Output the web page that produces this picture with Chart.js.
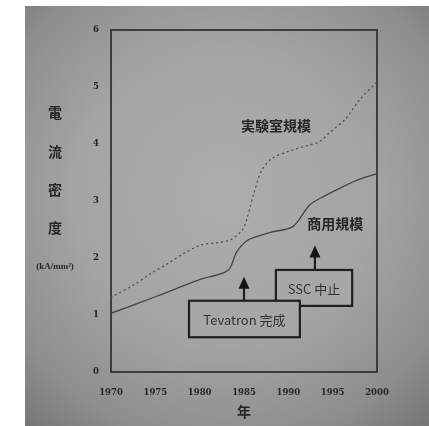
<!DOCTYPE html>
<html>
<head>
<meta charset="utf-8">
<script src="https://cdn.jsdelivr.net/npm/chart.js@4.4.0/dist/chart.umd.min.js"></script>
<style>
  html, body { margin: 0; padding: 0; background: #ffffff; }
  #wrap { width: 429px; height: 426px; position: relative; }
</style>
</head>
<body>
<div id="wrap"><canvas id="c" width="429" height="426"></canvas></div>
<script>
// Critical current density of superconducting wire, 1970–2000 (kA/mm²)
const xTicks = [1970, 1975, 1980, 1985, 1990, 1995, 2000];
const yTicks = [0, 1, 2, 3, 4, 5, 6];

// 実験室規模 (laboratory scale) — dotted
const labYears  = [1970, 1972.6, 1974.5, 1976.5, 1978.3, 1980.2, 1982, 1983.5, 1984.8, 1985.3, 1986.1, 1987, 1988.2, 1990, 1992.3, 1993.5, 1994.6, 1996.5, 1998, 2000];
const labValues = [1.31, 1.53, 1.73, 1.91, 2.09, 2.23, 2.27, 2.32, 2.49, 2.67, 3.13, 3.54, 3.75, 3.87, 3.98, 4.04, 4.19, 4.45, 4.77, 5.09];

// 商用規模 (commercial scale) — solid
const comYears  = [1970, 1975, 1980, 1982.5, 1983.4, 1984.2, 1985.5, 1988, 1990.5, 1992.4, 1994, 1996, 1998, 2000];
const comValues = [1.03, 1.32, 1.62, 1.73, 1.82, 2.11, 2.32, 2.45, 2.55, 2.93, 3.08, 3.24, 3.38, 3.48];

const seriesLabels = ['実験室規模', '商用規模'];

// Event call-outs: year the arrow points at, arrow tip value, box extent (data units)
const events = [
  { text: 'SSC 中止',      year: 1993, tip: 2.22, box: [1988.6, 1997.2, 1.79, 1.16] },
  { text: 'Tevatron 完成', year: 1985, tip: 1.67, box: [1978.8, 1991.3, 1.25, 0.61] }
];

const toPts = (xs, ys) => xs.map((x, i) => ({ x: x, y: ys[i] }));

const INK = '#262626';

const decor = {
  id: 'decor',
  beforeDraw(chart) {
    const ctx = chart.ctx;
    ctx.save();
    ctx.fillStyle = '#ffffff';
    ctx.fillRect(0, 0, chart.width, chart.height);
    const g = ctx.createRadialGradient(225, 195, 0, 225, 195, 330);
    g.addColorStop(0, '#adadad');
    g.addColorStop(0.45, '#a4a4a4');
    g.addColorStop(0.75, '#8e8e8e');
    g.addColorStop(1, '#6c6c6c');
    ctx.fillStyle = g;
    ctx.fillRect(25, 6, chart.width - 25, chart.height - 6);
    ctx.restore();
  },
  beforeDatasetsDraw(chart) {
    const { ctx, chartArea: a } = chart;
    ctx.save();
    ctx.strokeStyle = '#333333';
    ctx.lineWidth = 1.8;
    ctx.strokeRect(a.left, a.top, a.right - a.left, a.bottom - a.top);
    ctx.restore();
  },
  afterDatasetsDraw(chart) {
    const { ctx, scales: { x, y } } = chart;
    ctx.save();
    // series names beside their curves
    ctx.fillStyle = INK;
    ctx.textAlign = 'center';
    ctx.textBaseline = 'middle';
    ctx.font = 'bold 14px "Noto Sans CJK JP"';
    ctx.fillText(seriesLabels[0], x.getPixelForValue(1988.6), y.getPixelForValue(4.32));
    ctx.fillText(seriesLabels[1], x.getPixelForValue(1995.3), y.getPixelForValue(2.61));

    // call-out boxes with arrows
    events.forEach(ev => {
      const l = x.getPixelForValue(ev.box[0]), r = x.getPixelForValue(ev.box[1]);
      const t = y.getPixelForValue(ev.box[2]), b = y.getPixelForValue(ev.box[3]);
      const ax = x.getPixelForValue(ev.year);
      const tipY = y.getPixelForValue(ev.tip);
      ctx.fillStyle = '#a7a7a7';
      ctx.fillRect(l, t, r - l, b - t);
      ctx.strokeStyle = '#1e1e1e';
      ctx.lineWidth = 2.2;
      ctx.strokeRect(l, t, r - l, b - t);
      ctx.beginPath();
      ctx.moveTo(ax, t);
      ctx.lineTo(ax, tipY + 10);
      ctx.stroke();
      ctx.beginPath();
      ctx.moveTo(ax, tipY);
      ctx.lineTo(ax - 5.5, tipY + 12);
      ctx.lineTo(ax + 5.5, tipY + 12);
      ctx.closePath();
      ctx.fillStyle = '#151515';
      ctx.fill();
      ctx.fillStyle = '#333333';
      ctx.font = '13px "Noto Sans CJK JP"';
      ctx.fillText(ev.text, (l + r) / 2, (t + b) / 2 + 1);
    });
    ctx.restore();
  },
  afterDraw(chart) {
    const ctx = chart.ctx;
    ctx.save();
    ctx.fillStyle = INK;
    ctx.textAlign = 'center';
    ctx.textBaseline = 'middle';
    // vertical y-axis title
    ctx.font = 'bold 14px "Noto Sans CJK JP"';
    const chars = ['電', '流', '密', '度'];
    const ys = [113, 152, 190, 228];
    chars.forEach((ch, i) => ctx.fillText(ch, 55, ys[i]));
    ctx.font = 'bold 9px "Liberation Serif"';
    ctx.fillText('(kA/mm²)', 55, 267);
    // x-axis title
    ctx.font = 'bold 14px "Noto Sans CJK JP"';
    ctx.fillText('年', (chart.chartArea.left + chart.chartArea.right) / 2, 412);
    ctx.restore();
  }
};

new Chart(document.getElementById('c'), {
  type: 'line',
  data: {
    datasets: [
      {
        label: seriesLabels[0],
        data: toPts(labYears, labValues),
        borderColor: '#505050',
        borderWidth: 1.3,
        borderDash: [1, 4],
        borderCapStyle: 'round',
        pointRadius: 0,
        tension: 0.3,
        fill: false
      },
      {
        label: seriesLabels[1],
        data: toPts(comYears, comValues),
        borderColor: '#454545',
        borderWidth: 1.3,
        pointRadius: 0,
        tension: 0.3,
        fill: false
      }
    ]
  },
  options: {
    responsive: false,
    animation: false,
    events: [],
    layout: { padding: { left: 25, top: 30, right: 52, bottom: 20 } },
    plugins: {
      legend: { display: false },
      tooltip: { enabled: false },
      title: { display: false }
    },
    scales: {
      x: {
        type: 'linear',
        min: xTicks[0],
        max: xTicks[xTicks.length - 1],
        afterBuildTicks: s => { s.ticks = xTicks.map(v => ({ value: v })); },
        afterFit: s => { s.height = 34; },
        grid: { display: false, drawTicks: false },
        border: { display: false },
        ticks: {
          padding: 16,
          color: '#262626',
          font: { family: 'DejaVu Serif', size: 8.5, weight: 'bold' },
          callback: v => String(v),
          maxRotation: 0
        }
      },
      y: {
        min: yTicks[0],
        max: yTicks[yTicks.length - 1],
        afterBuildTicks: s => { s.ticks = yTicks.map(v => ({ value: v })); },
        afterFit: s => { s.width = 86; },
        grid: { display: false, drawTicks: false },
        border: { display: false },
        ticks: {
          padding: 12,
          color: '#262626',
          font: { family: 'DejaVu Serif', size: 8.5, weight: 'bold' },
          callback: v => String(v)
        }
      }
    }
  },
  plugins: [decor]
});
</script>
</body>
</html>
